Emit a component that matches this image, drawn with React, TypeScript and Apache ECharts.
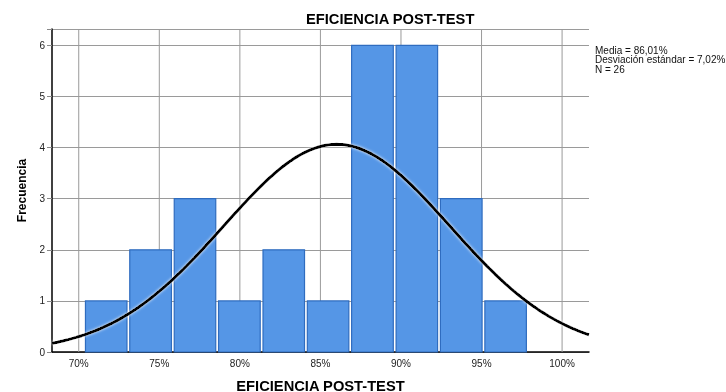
import React, { useEffect, useRef } from "react";
import * as echarts from "echarts";

const binStart = [70.33, 73.08, 75.84, 78.59, 81.35, 84.1, 86.85, 89.61, 92.36, 95.12];
const binEnd = [73.08, 75.84, 78.59, 81.35, 84.1, 86.85, 89.61, 92.36, 95.12, 97.87];
const counts = [1, 2, 3, 1, 2, 1, 6, 6, 3, 1];
const xTickValues = [70, 75, 80, 85, 90, 95, 100];
const yTickValues = [0, 1, 2, 3, 4, 5, 6];
const mean = 86.01;
const sd = 7.02;
const n = 26;
const statLines = ["Media = 86,01%", "Desviación estándar = 7,02%", "N = 26"];
const title = "EFICIENCIA POST-TEST";
const xName = "EFICIENCIA POST-TEST";
const yName = "Frecuencia";

const X_MIN = 68.34;
const X_MAX = 101.67;
const Y_MAX = 6.32;

export default function App() {
  const ref = useRef<HTMLDivElement>(null);
  useEffect(() => {
    if (!ref.current) return;
    const chart = echarts.init(ref.current, null, { renderer: "svg" });
    const binW = binEnd[0] - binStart[0];
    const curve: number[][] = [];
    const steps = 200;
    for (let i = 0; i <= steps; i++) {
      const x = X_MIN + ((X_MAX - X_MIN) * i) / steps;
      const z = (x - mean) / sd;
      const y = (n * binW * Math.exp(-0.5 * z * z)) / (sd * Math.sqrt(2 * Math.PI));
      curve.push([x, y]);
    }
    const font = "Arial, 'Liberation Sans', sans-serif";
    chart.setOption({
      animation: false,
      grid: { left: 52, right: 137, top: 29, bottom: 40, containLabel: false, outerBoundsMode: "none" },
      xAxis: {
        type: "value",
        min: X_MIN,
        max: X_MAX,
        axisLine: { show: true, onZero: false, lineStyle: { color: "#000", width: 1.5 } },
        axisTick: { show: false },
        splitLine: { show: false },
        axisLabel: {
          customValues: xTickValues,
          formatter: (v: number) => `${v}%`,
          color: "#222",
          fontSize: 10,
          fontFamily: font,
          margin: 6,
        },
        name: xName,
        nameLocation: "middle",
        nameGap: 26,
        nameTextStyle: { color: "#000", fontSize: 14.7, fontWeight: "bold", fontFamily: font },
      },
      yAxis: {
        type: "value",
        min: 0,
        max: Y_MAX,
        interval: 1,
        axisLine: { show: true, lineStyle: { color: "#000", width: 1.5 } },
        axisTick: { show: true, length: 5, lineStyle: { color: "#888" } },
        axisLabel: {
          customValues: yTickValues,
          color: "#222",
          fontSize: 10,
          fontFamily: font,
          margin: 7,
        },
        splitLine: { show: true, lineStyle: { color: "#9a9a9a", width: 1 } },
        name: yName,
        nameLocation: "middle",
        nameGap: 24,
        nameTextStyle: { color: "#000", fontSize: 12, fontWeight: "bold", fontFamily: font },
      },
      series: [
        {
          type: "custom",
          z: 1,
          silent: true,
          data: xTickValues.map((v) => [v]),
          renderItem: (params: any, api: any) => {
            const p0 = api.coord([api.value(0), 0]);
            const top = params.coordSys.y;
            return {
              type: "line",
              shape: { x1: p0[0], y1: p0[1], x2: p0[0], y2: top },
              style: { stroke: "#9a9a9a", lineWidth: 1 },
            };
          },
        },
        {
          type: "custom",
          z: 3,
          data: counts.map((c, i) => [binStart[i], binEnd[i], c]),
          renderItem: (params: any, api: any) => {
            const p0 = api.coord([api.value(0), api.value(2)]);
            const p1 = api.coord([api.value(1), 0]);
            const gap = 1.4;
            return {
              type: "rect",
              shape: {
                x: p0[0] + gap,
                y: p0[1],
                width: p1[0] - p0[0] - 2 * gap,
                height: p1[1] - p0[1],
              },
              style: { fill: "#5596e6", stroke: "#2f6cbf", lineWidth: 1.2 },
            };
          },
        },
        {
          type: "line",
          z: 5,
          data: curve,
          showSymbol: false,
          symbol: "none",
          smooth: false,
          lineStyle: { color: "#000", width: 3, shadowColor: "rgba(255,255,255,0.9)", shadowBlur: 3 },
        },
      ],
      graphic: [
        {
          type: "text",
          x: 306,
          y: 19,
          style: {
            text: title,
            fontSize: 14.7,
            fontWeight: "bold",
            fontFamily: font,
            fill: "#000",
            align: "left",
            verticalAlign: "middle",
          },
        },
        {
          type: "text",
          left: 595,
          top: 45,
          style: {
            text: statLines.join("\n"),
            fontSize: 10,
            lineHeight: 9.6,
            fontFamily: font,
            fill: "#111",
          },
        },
      ],
    });
    return () => chart.dispose();
  }, []);
  return <div ref={ref} style={{ position: "fixed", left: 0, top: 0, width: 726, height: 392 }} />;
}
